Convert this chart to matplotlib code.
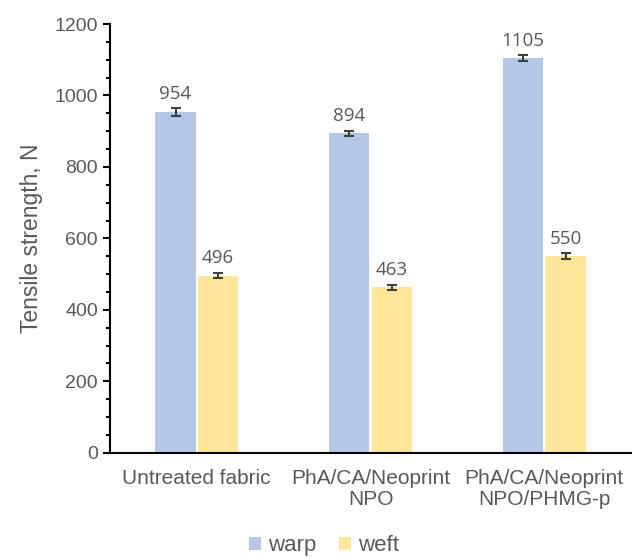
import matplotlib.pyplot as plt
import numpy as np
from matplotlib.ticker import MultipleLocator

categories = ['Untreated fabric', 'PhA/CA/Neoprint\nNPO', 'PhA/CA/Neoprint\nNPO/PHMG-p']
warp = [954, 894, 1105]
weft = [496, 463, 550]
warp_err = [10, 7, 8]
weft_err = [8, 7, 9]

plt.rcParams['font.family'] = ['Liberation Sans', 'DejaVu Sans']
gray = '#595959'

fig = plt.figure(figsize=(6.35, 5.59), dpi=100)
ax = fig.add_axes([0.173, 0.19, 0.821, 0.767])

x = np.arange(len(categories))
w = 0.232
err_kw = dict(ecolor='#404040', elinewidth=1.5, capsize=3.5, capthick=1.5)
b1 = ax.bar(x - 0.122, warp, w, yerr=warp_err, color='#B4C7E7', label='warp', error_kw=err_kw)
b2 = ax.bar(x + 0.122, weft, w, yerr=weft_err, color='#FFE699', label='weft', error_kw=err_kw)

for bars, vals, errs in [(b1, warp, warp_err), (b2, weft, weft_err)]:
    for b, v, e in zip(bars, vals, errs):
        ax.annotate(str(v), (b.get_x() + b.get_width() / 2, v + e), xytext=(0, 4),
                    textcoords='offset points', ha='center', va='bottom',
                    fontsize=13.5, color=gray, family=['Open Sans', 'DejaVu Sans'])

ax.set_xlim(-0.5, 2.5)
ax.set_ylim(0, 1200)
ax.yaxis.set_major_locator(MultipleLocator(200))
ax.yaxis.set_minor_locator(MultipleLocator(50))
ax.set_xticks(x)
ax.set_xticklabels(categories, fontsize=15, color=gray, linespacing=1.1)
ax.tick_params(axis='x', length=0, pad=12)
ax.tick_params(axis='y', which='major', length=5, width=1.5, labelsize=14, labelcolor=gray, color='black')
ax.tick_params(axis='y', which='minor', length=3, width=1.5, color='black')
ax.set_ylabel('Tensile strength, N', fontsize=16.5, color=gray, labelpad=8)

for s in ['top', 'right']:
    ax.spines[s].set_visible(False)
ax.spines['left'].set_linewidth(1.5)
ax.spines['bottom'].set_linewidth(1.5)

fig.legend(loc='center', bbox_to_anchor=(0.51, 0.024), ncol=2, frameon=False,
           fontsize=16, handlelength=0.55, handleheight=0.55, handletextpad=0.3,
           columnspacing=1.0, labelcolor=gray, borderpad=0.1)

fig.savefig('out.png', dpi=100)
